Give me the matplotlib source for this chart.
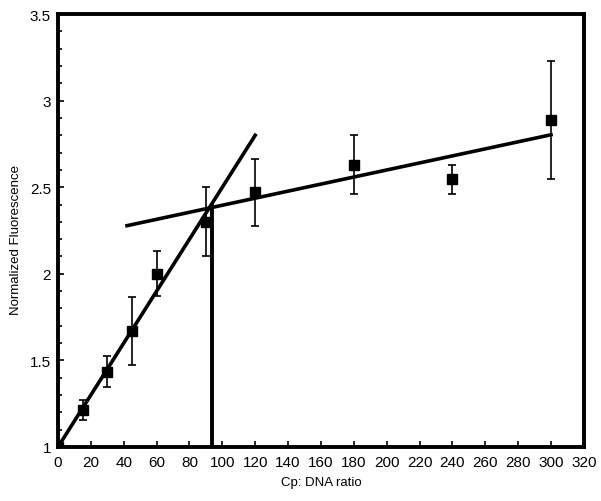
import matplotlib
matplotlib.use("Agg")
import matplotlib.pyplot as plt
from matplotlib.ticker import MultipleLocator

plt.rcParams['font.family'] = ['Liberation Sans', 'DejaVu Sans']

# measured points
ratio = [0, 15, 30, 45, 60, 90, 120, 180, 240, 300]
fluor = [1.0, 1.215, 1.435, 1.67, 2.0, 2.30, 2.47, 2.63, 2.545, 2.89]
err = [0.0, 0.057, 0.09, 0.195, 0.13, 0.20, 0.195, 0.17, 0.085, 0.34]

# fitted lines (start/end)
steep_x = [0, 120]
steep_y = [1.0, 2.8]
flat_x = [42, 300]
flat_y = [2.278, 2.803]
# break point
break_x = [94, 94]
break_y = [1.0, 2.395]

fig = plt.figure(figsize=(6.01, 5.02), dpi=100)
ax = fig.add_axes([0.0965, 0.1076, 0.875, 0.8624])

ax.errorbar(ratio, fluor, yerr=err, fmt='s', color='black', ms=6.5,
            elinewidth=1.2, capsize=3, capthick=1.2, zorder=3)
ax.plot(steep_x, steep_y, color='black', lw=2.6)
ax.plot(flat_x, flat_y, color='black', lw=2.6)
ax.plot(break_x, break_y, color='black', lw=2.8)

ax.set_xlim(0, 320)
ax.set_ylim(1, 3.5)
ax.xaxis.set_major_locator(MultipleLocator(20))
ax.yaxis.set_minor_locator(MultipleLocator(0.1))
ax.set_yticks([1, 1.5, 2, 2.5, 3, 3.5])
ax.set_yticklabels(['1', '1.5', '2', '2.5', '3', '3.5'])

ax.tick_params(which='both', direction='in', top=False, right=False,
               width=1.2, labelsize=11)
ax.tick_params(which='major', length=4)
ax.tick_params(which='minor', length=3)
ax.tick_params(axis='x', pad=6)
ax.tick_params(axis='y', pad=5)

for s in ax.spines.values():
    s.set_linewidth(2.8)

ax.set_xlabel('Cp: DNA ratio', fontsize=9.5, labelpad=5)
ax.set_ylabel('Normalized Fluorescence', fontsize=9.5)
ax.yaxis.set_label_coords(-0.068, 0.48)

fig.savefig('out.png', dpi=100)
